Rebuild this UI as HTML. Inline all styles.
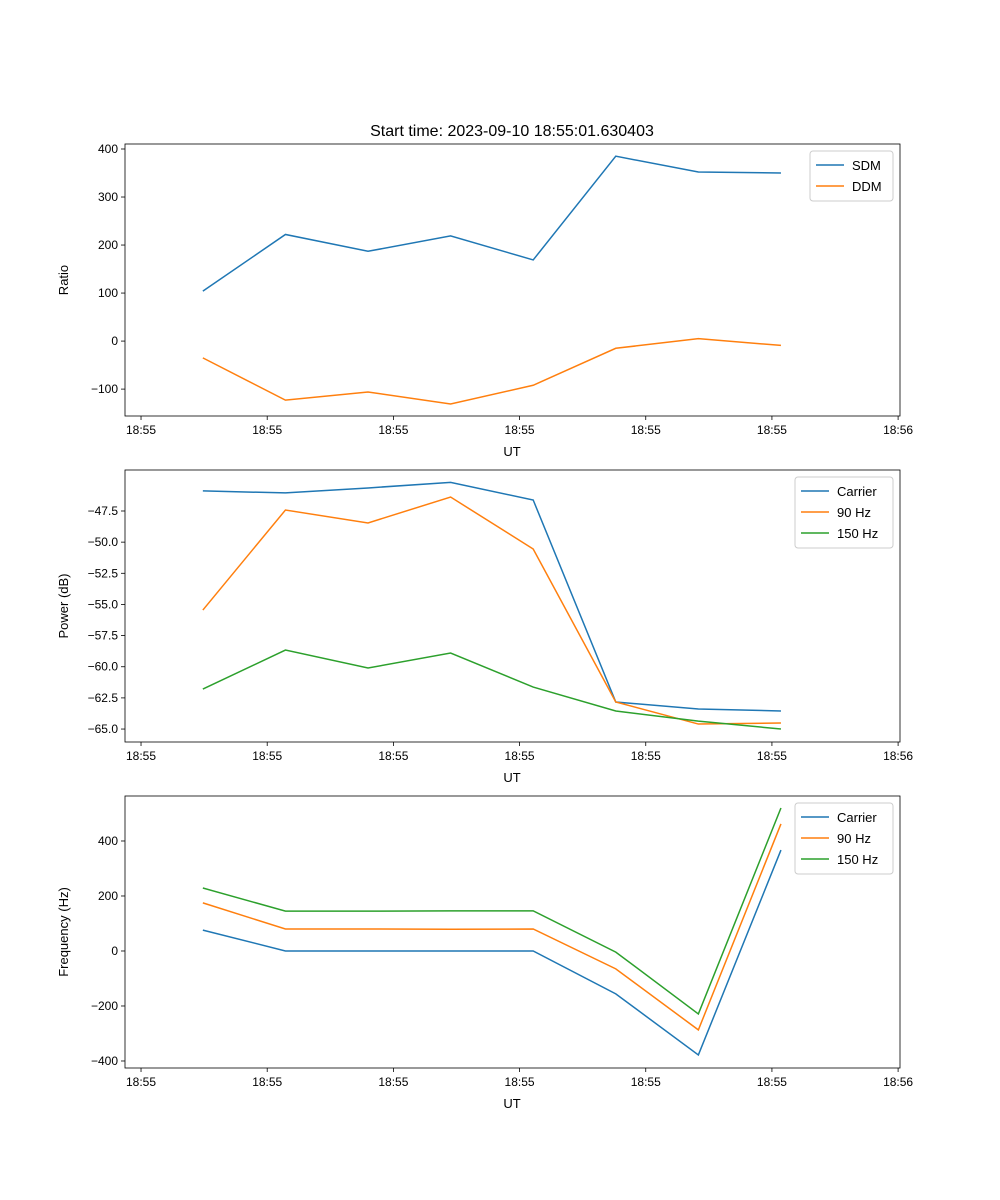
<!DOCTYPE html>
<html><head><meta charset="utf-8"><style>body{margin:0;background:#fff}svg{display:block;font-family:"Liberation Sans","DejaVu Sans",sans-serif}</style></head>
<body>
<svg id="fig" width="1000" height="1200" xmlns="http://www.w3.org/2000/svg">
<text x="512" y="136" font-size="16" text-anchor="middle">Start time: 2023-09-10 18:55:01.630403</text>
</svg>
<script>
const times = [4.9, 11.445, 17.99, 24.535, 31.08, 37.625, 44.17, 50.715];
const xTicks = [0, 10, 20, 30, 40, 50, 60];
const xTickLabels = ["18:55","18:55","18:55","18:55","18:55","18:55","18:56"];
const sdm = [104, 222, 187, 219, 169, 385, 352, 350];
const ddm = [-35, -123, -106, -131, -92, -15, 5, -9];
const pCarrier = [-45.89, -46.05, -45.65, -45.2, -46.62, -62.83, -63.39, -63.55];
const p90 = [-55.45, -47.42, -48.46, -46.38, -50.55, -62.83, -64.6, -64.52];
const p150 = [-61.79, -58.66, -60.1, -58.9, -61.63, -63.55, -64.36, -65.0];
const fCarrier = [76, 0, 0, 0, 0, -156, -378, 367];
const f90 = [175, 80, 80, 79, 80, -65, -287, 462];
const f150 = [229, 145, 145, 146, 146, -4, -229, 520];
const yTicks1 = [-100, 0, 100, 200, 300, 400];
const yTicks2 = [-65, -62.5, -60, -57.5, -55, -52.5, -50, -47.5];
const yTicks3 = [-400, -200, 0, 200, 400];

const NS = "http://www.w3.org/2000/svg";
const svg = document.getElementById('fig');
function mk(tag, attrs, parent){const e=document.createElementNS(NS,tag);for(const k in attrs)e.setAttribute(k,attrs[k]);(parent||svg).appendChild(e);return e;}
const C = ['#1f77b4','#ff7f0e','#2ca02c'];
const L = 125, R = 900, XMIN = -1.27, XMAX = 60.15;
const xs = t => L + (t - XMIN) / (XMAX - XMIN) * (R - L);

function panel(top, bot, ymin, ymax, yticks, fmt, series, names, ylabel, idx, legW){
  const g = mk('g', {});
  
  
  const ys = v => bot - (v - ymin) / (ymax - ymin) * (bot - top);
  series.forEach((s, i) => {
    const p = mk('polyline', {points: s.map((v, j) => xs(times[j]) + ',' + ys(v)).join(' '), fill: 'none', stroke: C[i], 'stroke-width': 1.5}, g);
    
    
  });
  const fr = mk('rect', {x: L, y: top, width: R - L, height: bot - top, fill: 'none', stroke: '#000', 'stroke-width': 0.8}, g);
  
  
  xTicks.forEach((t, i) => {
    const x = xs(t);
    mk('line', {x1: x, x2: x, y1: bot, y2: bot + 4, stroke: '#000', 'stroke-width': 0.8}, g);
    const tx = mk('text', {x: x, y: bot + 18, 'font-size': 12, 'text-anchor': 'middle'}, g);
    tx.textContent = xTickLabels[i];
    
    
  });
  yticks.forEach(v => {
    const y = ys(v);
    mk('line', {x1: L - 4, x2: L, y1: y, y2: y, stroke: '#000', 'stroke-width': 0.8}, g);
    const tx = mk('text', {x: L - 7, y: y + 4, 'font-size': 12, 'text-anchor': 'end'}, g);
    tx.textContent = fmt(v);
    
    
  });
  const xl = mk('text', {x: 512, y: bot + 40, 'font-size': 13, 'text-anchor': 'middle'}, g);
  xl.textContent = 'UT';
  
  
  const yx = 68, yy = (top + bot) / 2;
  const yl = mk('text', {x: yx, y: yy, 'font-size': 13, 'text-anchor': 'middle', transform: 'rotate(-90 ' + yx + ' ' + yy + ')'}, g);
  yl.textContent = ylabel;
  
  
  const lg = mk('g', {}, g);
  
  
  const lx = R - 7 - legW, ly = top + 7;
  mk('rect', {x: lx, y: ly, width: legW, height: 8 + names.length * 21, rx: 3, fill: '#fff', stroke: '#ccc'}, lg);
  names.forEach((n, i) => {
    const y = ly + 14 + i * 21;
    mk('line', {x1: lx + 6, x2: lx + 34, y1: y, y2: y, stroke: C[i], 'stroke-width': 1.5}, lg);
    const t = mk('text', {x: lx + 42, y: y + 5, 'font-size': 13}, lg);
    t.textContent = n;
    
    
  });
}
panel(144, 416, -156, 410.4, yTicks1, v => String(v).replace('-', '\u2212'), [sdm, ddm], ['SDM', 'DDM'], 'Ratio', 1, 83);
panel(470, 742, -66.04, -44.21, yTicks2, v => v.toFixed(1).replace('-', '\u2212'), [pCarrier, p90, p150], ['Carrier', '90 Hz', '150 Hz'], 'Power (dB)', 2, 98);
panel(796, 1068, -425.5, 563.6, yTicks3, v => String(v).replace('-', '\u2212'), [fCarrier, f90, f150], ['Carrier', '90 Hz', '150 Hz'], 'Frequency (Hz)', 3, 98);
</script>
</body></html>
